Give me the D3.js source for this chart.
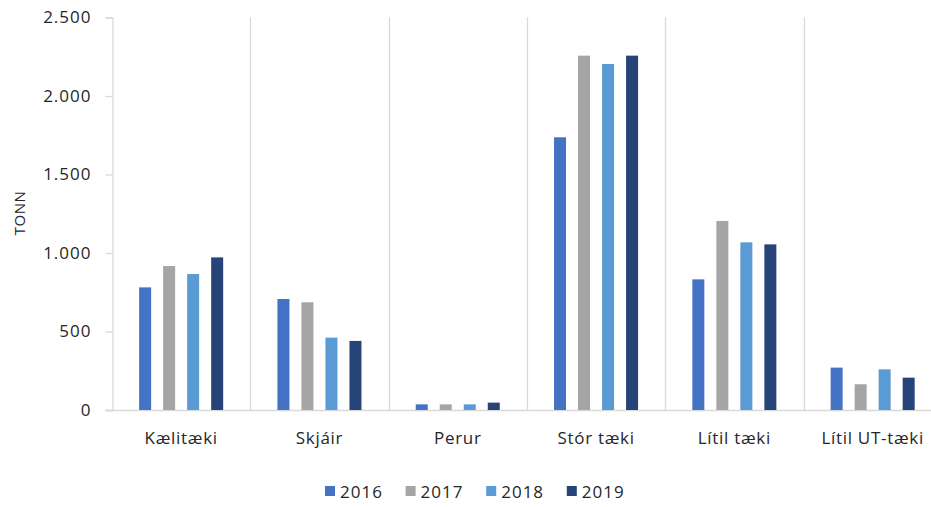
<!DOCTYPE html>
<html><head><meta charset="utf-8">
<script src="https://cdn.jsdelivr.net/npm/d3@7"></script>
<style>body{margin:0;background:#fff}svg{display:block}text{font-family:"Open Sans",sans-serif;fill:#262626}</style>
</head><body><svg id="c" width="931" height="507"></svg>
<script>
const categories = ["Kælitæki","Skjáir","Perur","Stór tæki","Lítil tæki","Lítil UT-tæki"];
const years = ["2016","2017","2018","2019"];
const v2016 = [781, 707, 36, 1737, 832, 270];
const v2017 = [917, 686, 36, 2257, 1204, 164];
const v2018 = [866, 461, 36, 2204, 1068, 259];
const v2019 = [972, 440, 47, 2257, 1055, 206];
const yTicks = [0, 500, 1000, 1500, 2000, 2500];
const colors = ["#4472C4", "#A5A5A5", "#5B9BD5", "#264478"];
const seriesVals = [v2016, v2017, v2018, v2019];

const svg = d3.select("#c");
const x0 = d3.scaleBand().domain(categories).range([112, 112 + 6 * 138.3]).padding(0);
const x1 = d3.scaleBand().domain(years).range([0, x0.bandwidth()]).paddingInner(0.5).paddingOuter(1.13);
const y = d3.scaleLinear().domain([0, 2500]).range([410, 17.5]);
const fmt = v => d3.format(",")(v).replace(/,/g, ".");

// separators
svg.append("g").selectAll("line").data(categories.slice(1)).join("line")
  .attr("x1", d => Math.round(x0(d)) + 0.5).attr("x2", d => Math.round(x0(d)) + 0.5)
  .attr("y1", y(2500)).attr("y2", y(0)).attr("stroke", "#D9D9D9").attr("stroke-width", 1.3);

// y axis
const ya = svg.append("g").attr("transform", "translate(112.5,0)")
  .call(d3.axisLeft(y).tickValues(yTicks).tickFormat(fmt).tickSize(7).tickPadding(14));
ya.select(".domain").attr("stroke", "#D9D9D9").attr("stroke-width", 1.3);
ya.selectAll(".tick line").attr("stroke", "#D9D9D9").attr("stroke-width", 1.3);
ya.selectAll(".tick text").style("font-size", "17px").style("letter-spacing", "1px").attr("fill", "#262626");

// x baseline
const xa = svg.append("g").attr("transform", `translate(0,${y(0) + 0.5})`)
  .call(d3.axisBottom(x0).tickSize(0).tickPadding(21));
xa.select(".domain").attr("stroke", "#D9D9D9").attr("stroke-width", 1.3).attr("d", `M105,0H${x0.range()[1]}`);
xa.selectAll(".tick text").style("font-size", "17px").style("letter-spacing", "0.7px").attr("fill", "#262626");

// bars
const rows = categories.map((c, i) => ({c, vals: years.map((yr, j) => ({yr, v: seriesVals[j][i], col: colors[j]}))}));
svg.append("g").selectAll("g").data(rows).join("g")
  .attr("transform", d => `translate(${x0(d.c)},0)`)
  .selectAll("rect").data(d => d.vals).join("rect")
  .attr("x", d => x1(d.yr)).attr("width", x1.bandwidth())
  .attr("y", d => y(d.v)).attr("height", d => y(0) - y(d.v))
  .attr("fill", d => d.col);

// y label
svg.append("text").attr("transform", "translate(25,213) rotate(-90)")
  .attr("text-anchor", "middle").style("font-size", "15px").style("letter-spacing", "0.5px").text("TONN");

// legend
const lg = svg.append("g").selectAll("g").data(years).join("g")
  .attr("transform", (d, i) => `translate(${325 + i * 80.6},486)`);
lg.append("rect").attr("width", 10).attr("height", 10).attr("fill", (d, i) => colors[i]);
lg.append("text").attr("x", 15).attr("y", 11.5).style("font-size", "17px").style("letter-spacing", "1px").text(d => d);
</script></body></html>
